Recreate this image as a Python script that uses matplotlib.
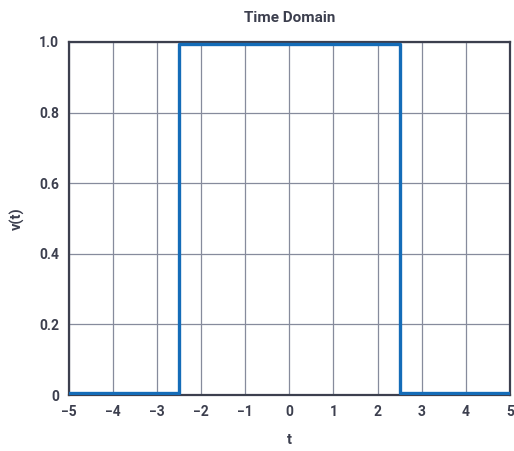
import matplotlib
matplotlib.use("Agg")
import matplotlib.pyplot as plt

plt.rcParams.update({
    "font.family": ["Roboto", "DejaVu Sans"],
    "font.weight": "bold",
})

t = [-5, -2.5, -2.5, 2.5, 2.5, 5]
v = [0.006, 0.006, 0.994, 0.994, 0.006, 0.006]
xticks = [-5, -4, -3, -2, -1, 0, 1, 2, 3, 4, 5]
yticks = [0, 0.2, 0.4, 0.6, 0.8, 1.0]
yticklabels = ["0", "0.2", "0.4", "0.6", "0.8", "1.0"]

_FRAME = "#3c3f4e"
_GRID = "#868b9c"
_PULSE = "#146cb8"

fig = plt.figure(figsize=(5.14, 4.51), dpi=100)
ax = fig.add_axes([0.134, 0.124, 0.858, 0.783])

ax.plot(t, v, color=_PULSE, linewidth=2.4, zorder=3)

ax.set_xlim(-5, 5)
ax.set_ylim(0, 1)
ax.set_xticks(xticks)
ax.set_xticklabels([f"\u2212{-x}" if x < 0 else str(x) for x in xticks])
ax.set_yticks(yticks)
ax.set_yticklabels(yticklabels)
ax.grid(True, color=_GRID, linewidth=0.9)
ax.set_axisbelow(True)

for s in ax.spines.values():
    s.set_color(_FRAME)
    s.set_linewidth(1.6)
ax.tick_params(length=0, pad=7, labelsize=10, colors=_FRAME)

ax.set_title("Time Domain", fontsize=11, fontweight="bold", color=_FRAME, pad=14)
ax.set_xlabel("t", fontsize=10.5, fontweight="bold", color=_FRAME, labelpad=10)
ax.set_ylabel("v(t)", fontsize=10.5, fontweight="bold", color=_FRAME, labelpad=10)

fig.savefig("out.png", dpi=100)
